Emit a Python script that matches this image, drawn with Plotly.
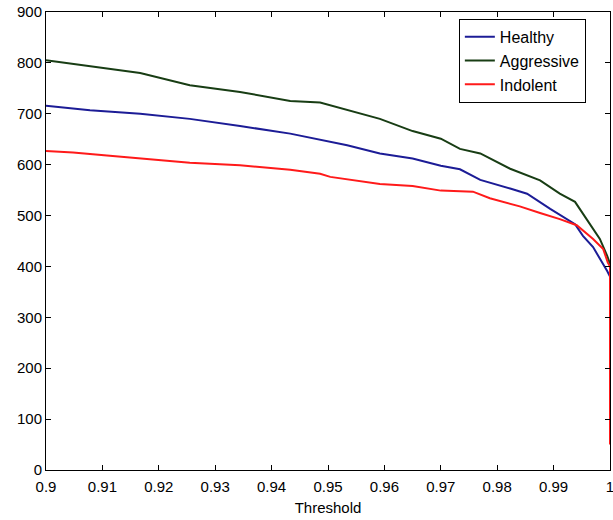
import plotly.graph_objects as go

# Aggressive (green)
agg_x = [0.9, 0.9078, 0.9167, 0.9255, 0.9344, 0.9433, 0.9486, 0.9592, 0.965, 0.970, 0.9734,
         0.977, 0.9823, 0.9876, 0.9911, 0.9938, 0.9959, 0.9982, 0.9995, 1.0, 1.0]
agg_y = [805, 793, 780, 756, 743, 725, 722, 690, 666, 651, 631,
         622, 592, 569, 543, 527, 493, 454, 421, 405, 100]

# Healthy (blue)
hea_x = [0.9, 0.9078, 0.9167, 0.9255, 0.9344, 0.9433, 0.9534, 0.9592, 0.965, 0.970, 0.9734,
         0.977, 0.9823, 0.9853, 0.9894, 0.9938, 0.9952, 0.997, 0.9995, 1.0, 1.0]
hea_y = [716, 707, 700, 690, 676, 661, 638, 622, 612, 598, 591,
         570, 553, 543, 513, 483, 460, 438, 391, 380, 150]

# Indolent (red)
ind_x = [0.9, 0.9048, 0.9108, 0.9167, 0.9255, 0.9344, 0.9433, 0.9486, 0.9504, 0.9592, 0.965,
         0.970, 0.9757, 0.9787, 0.984, 0.9876, 0.9911, 0.9941, 0.997, 0.9988, 0.9996, 1.0, 1.0]
ind_y = [627, 624, 618, 612, 604, 599, 590, 582, 576, 562, 558,
         549, 547, 534, 518, 505, 493, 481, 454, 434, 408, 400, 50]

x_ticks = [0.9, 0.91, 0.92, 0.93, 0.94, 0.95, 0.96, 0.97, 0.98, 0.99, 1.0]
x_labels = ["0.9", "0.91", "0.92", "0.93", "0.94", "0.95", "0.96", "0.97", "0.98", "0.99", "1"]
y_ticks = [0, 100, 200, 300, 400, 500, 600, 700, 800, 900]

fig = go.Figure()
fig.add_trace(go.Scatter(x=hea_x, y=hea_y, mode="lines", name="Healthy",
                         line=dict(color="#1c1c96", width=2)))
fig.add_trace(go.Scatter(x=agg_x, y=agg_y, mode="lines", name="Aggressive",
                         line=dict(color="#183d14", width=2)))
fig.add_trace(go.Scatter(x=ind_x, y=ind_y, mode="lines", name="Indolent",
                         line=dict(color="#ff1a1a", width=2)))

axis_common = dict(showline=True, linecolor="black", linewidth=1, mirror="ticks",
                   ticks="inside", ticklen=5, tickcolor="black", showgrid=False,
                   zeroline=False, automargin=False,
                   tickfont=dict(family="Liberation Sans, Arial", size=15, color="black"))

fig.update_xaxes(range=[0.9, 1.0], tickvals=x_ticks, ticktext=x_labels,
                 ticklabeloverflow="allow", ticklabelstandoff=3,
                 title=dict(text="Threshold", font=dict(family="Liberation Sans, Arial", size=15, color="black"), standoff=8),
                 **axis_common)
fig.update_yaxes(range=[0, 900], tickvals=y_ticks, **axis_common)

fig.update_layout(
    width=613, height=520,
    margin=dict(l=46, r=3, t=12, b=50),
    plot_bgcolor="white", paper_bgcolor="white",
    legend=dict(x=0.732, y=0.985, xanchor="left", yanchor="top",
                bgcolor="white", bordercolor="black", borderwidth=1,
                font=dict(family="Liberation Sans, Arial", size=16, color="black"),
                tracegroupgap=0, itemwidth=30),
    showlegend=True,
)

fig.write_html("out.html")
